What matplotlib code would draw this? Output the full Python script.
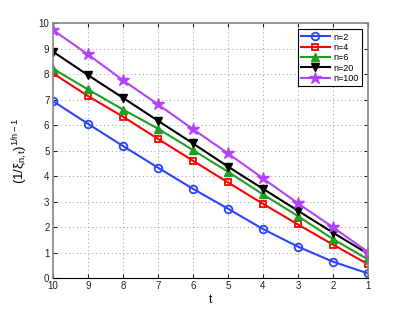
import matplotlib
matplotlib.use("Agg")
import matplotlib.pyplot as plt

t = [10, 9, 8, 7, 6, 5, 4, 3, 2, 1]
n2 = [6.94, 6.05, 5.18, 4.33, 3.50, 2.72, 1.92, 1.23, 0.64, 0.18]
n4 = [8.03, 7.14, 6.33, 5.46, 4.60, 3.75, 2.91, 2.10, 1.31, 0.54]
n6 = [8.21, 7.40, 6.61, 5.86, 5.02, 4.17, 3.28, 2.43, 1.53, 0.73]
n20 = [8.88, 7.96, 7.07, 6.17, 5.28, 4.37, 3.50, 2.64, 1.78, 0.95]
n100 = [9.73, 8.77, 7.76, 6.81, 5.84, 4.89, 3.91, 2.93, 1.99, 1.02]
labels = ["n=2", "n=4", "n=6", "n=20", "n=100"]

plt.rcParams['font.family'] = ['Liberation Sans', 'DejaVu Sans']
plt.rcParams['mathtext.fontset'] = 'custom'
plt.rcParams['mathtext.rm'] = 'Liberation Sans'
plt.rcParams['mathtext.it'] = 'Liberation Sans'

fig = plt.figure(figsize=(4.07, 3.12), dpi=100)
ax = fig.add_axes([0.130, 0.109, 0.774, 0.817])

styles = [
    dict(color='#2a45ff', marker='o', mfc='none', ms=5.5, mew=1.3),
    dict(color='#ff0000', marker='s', mfc='none', ms=5, mew=1.3),
    dict(color='#1f9e1f', marker='^', mfc='#1f9e1f', ms=6),
    dict(color='black', marker='v', mfc='black', ms=6),
    dict(color='#b540ff', marker='*', mfc='#b540ff', ms=9),
]
for ys, lab, st in zip([n2, n4, n6, n20, n100], labels, styles):
    ax.plot(t, ys, lw=1.5, label=lab, **st)

ax.set_xlim(10, 1)
ax.set_ylim(0, 10)
ax.set_xticks(t)
ax.set_yticks(range(0, 11))
ax.grid(True, ls=(0, (1, 3)), color='#999999', lw=0.7)
ax.tick_params(direction='in', labelsize=7, length=3, top=True, right=True,
               colors='#222222', pad=2.5)
for s in ['left', 'top', 'right']:
    ax.spines[s].set_color('#888888')
    ax.spines[s].set_linewidth(1.2)
ax.spines['bottom'].set_color('black')
ax.set_xlabel('t', fontsize=8.5, labelpad=2)
ax.set_ylabel(r'$(1/\xi_{n,t})^{1/n-1}$', fontsize=9.5, labelpad=6)
leg = ax.legend(loc='upper right', fontsize=6.5, fancybox=False, edgecolor='black',
                framealpha=1, handlelength=3.2, borderaxespad=0.7, labelspacing=0.15,
                handletextpad=0.4, borderpad=0.35)
leg.get_frame().set_linewidth(0.8)
fig.savefig('out.png', dpi=100)
